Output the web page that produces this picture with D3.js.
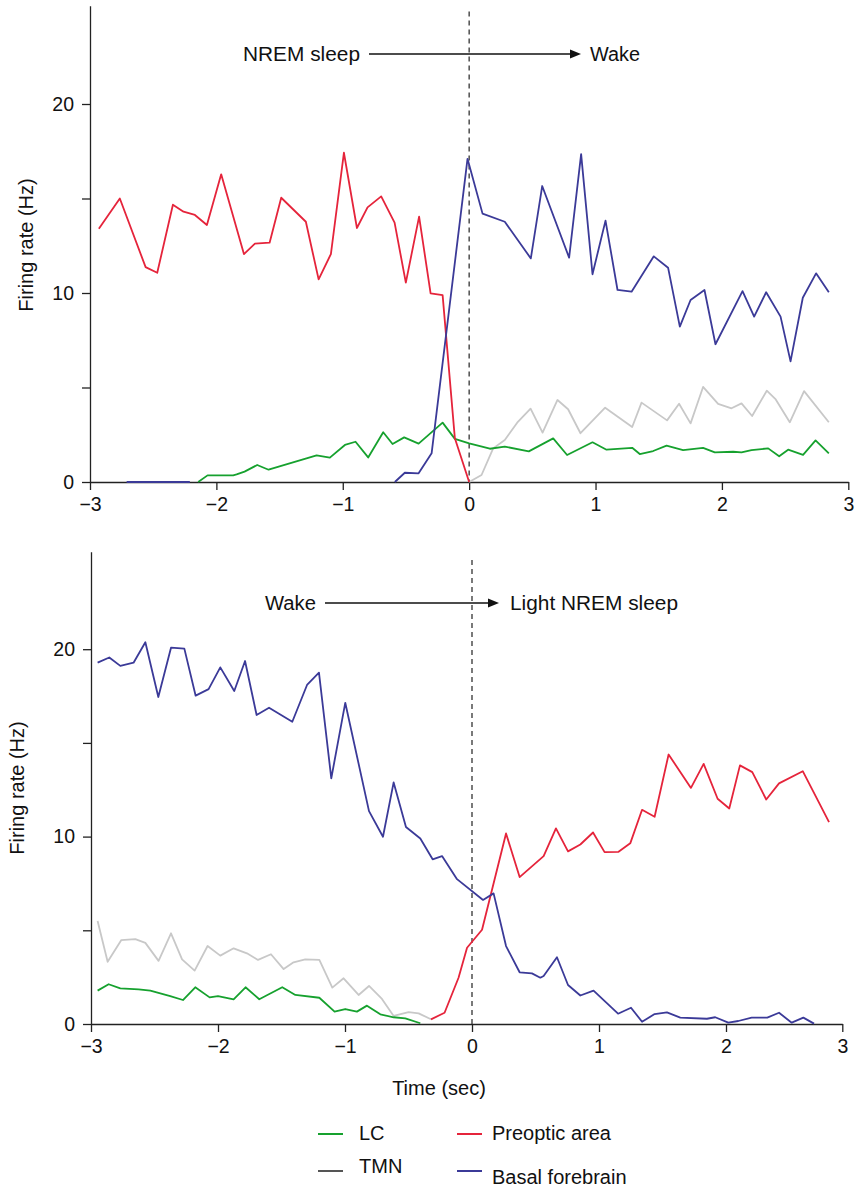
<!DOCTYPE html>
<html>
<head>
<meta charset="utf-8">
<script src="https://cdn.jsdelivr.net/npm/d3@7"></script>
<style>
  body { margin: 0; background: #fff; }
  svg { font-family: "Liberation Sans", Arial, Helvetica, sans-serif; }
</style>
</head>
<body>
<div id="chart"></div>
<script>
// axis ticks shared by both panels
const xTicks = [-3, -2, -1, 0, 1, 2, 3];
const yTicks = [0, 5, 10, 15, 20];
const yLabelled = [0, 10, 20];

// top panel: NREM sleep -> Wake   [time (sec), firing rate (Hz)]
const topLC = [[-2.144,0],[-2.07,0.35],[-1.867,0.35],[-1.84,0.4],[-1.777,0.55],[-1.677,0.9],[-1.587,0.65],
  [-1.207,1.41],[-1.102,1.29],[-0.983,1.96],[-0.899,2.13],[-0.799,1.3],[-0.68,2.63],[-0.606,2.01],[-0.514,2.36],
  [-0.4,2.03],[-0.21,3.14],[-0.113,2.28],[0,2.04],[0.164,1.76],[0.282,1.87],[0.472,1.62],[0.665,2.31],[0.775,1.43],
  [0.976,2.1],[1.087,1.71],[1.29,1.81],[1.35,1.48],[1.456,1.64],[1.562,1.92],[1.693,1.69],[1.851,1.81],[1.944,1.57],
  [2.089,1.6],[2.155,1.57],[2.234,1.69],[2.366,1.78],[2.453,1.36],[2.524,1.71],[2.642,1.44],[2.741,2.2],[2.846,1.52]];
const topTMN = [[0,0],[0.098,0.37],[0.19,1.78],[0.282,2.22],[0.38,3.14],[0.486,3.88],[0.581,2.61],[0.699,4.34],
  [0.783,3.85],[0.881,2.58],[1.076,3.93],[1.29,2.91],[1.364,4.2],[1.566,3.26],[1.661,4.14],[1.752,3.1],[1.851,5.03],
  [1.97,4.13],[2.076,3.9],[2.155,4.16],[2.239,3.49],[2.355,4.83],[2.426,4.37],[2.537,3.16],[2.65,4.81],[2.846,3.16]];
const topPOA = [[-2.93,13.4],[-2.764,15.0],[-2.56,11.37],[-2.468,11.07],[-2.344,14.67],[-2.26,14.3],[-2.17,14.13],
  [-2.075,13.6],[-1.962,16.28],[-1.782,12.06],[-1.695,12.61],[-1.579,12.66],[-1.487,15.04],[-1.292,13.77],
  [-1.191,10.72],[-1.094,12.06],[-0.991,17.42],[-0.888,13.44],[-0.804,14.53],[-0.696,15.11],[-0.59,13.72],
  [-0.501,10.55],[-0.396,14.04],[-0.305,9.98],[-0.21,9.89],[-0.113,2.31],[0,0]];
const topBF = [[-2.71,0],[-2.21,0],[-2.2,null],[-0.588,0],[-0.509,0.49],[-0.4,0.46],[-0.297,1.52],[-0.013,17.1],
  [0.106,14.2],[0.282,13.77],[0.488,11.83],[0.578,15.66],[0.791,11.87],[0.886,17.35],[0.976,10.99],[1.079,13.83],
  [1.174,10.16],[1.285,10.07],[1.461,11.94],[1.574,11.34],[1.667,8.22],[1.752,9.63],[1.862,10.16],[1.949,7.29],
  [2.163,10.1],[2.255,8.75],[2.35,10.04],[2.464,8.75],[2.543,6.38],[2.64,9.75],[2.745,11.04],[2.846,10.04]];

// bottom panel: Wake -> Light NREM sleep
const botLC = [[-2.948,1.78],[-2.861,2.12],[-2.769,1.9],[-2.625,1.85],[-2.533,1.78],[-2.376,1.49],[-2.276,1.28],
  [-2.179,1.96],[-2.066,1.42],[-2.0,1.49],[-1.877,1.32],[-1.783,1.96],[-1.675,1.32],[-1.494,1.96],[-1.391,1.55],
  [-1.202,1.4],[-1.082,0.66],[-0.998,0.8],[-0.906,0.66],[-0.827,0.98],[-0.722,0.52],[-0.617,0.36],[-0.525,0.3],[-0.407,0.04]];
const botTMN = [[-2.948,5.5],[-2.869,3.32],[-2.761,4.48],[-2.651,4.53],[-2.572,4.33],[-2.468,3.37],[-2.37,4.84],
  [-2.283,3.45],[-2.184,2.85],[-2.082,4.16],[-1.982,3.65],[-1.877,4.04],[-1.772,3.77],[-1.685,3.42],[-1.583,3.72],
  [-1.483,2.93],[-1.405,3.29],[-1.313,3.45],[-1.202,3.42],[-1.1,1.94],[-1.011,2.44],[-0.893,1.55],[-0.811,2.03],
  [-0.709,1.34],[-0.617,0.43],[-0.499,0.63],[-0.42,0.57],[-0.323,0.25]];
const botPOA = [[-0.323,0.25],[-0.216,0.6],[-0.106,2.47],[-0.039,4.07],[0.079,5.03],[0.268,10.17],[0.375,7.84],
  [0.564,8.96],[0.661,10.44],[0.756,9.21],[0.853,9.58],[0.953,10.22],[1.044,9.17],[1.154,9.19],[1.246,9.64],
  [1.339,11.43],[1.438,11.06],[1.548,14.38],[1.724,12.6],[1.824,13.88],[1.934,12.02],[2.028,11.5],[2.12,13.8],
  [2.226,13.44],[2.346,11.98],[2.456,12.84],[2.66,13.49],[2.886,10.77]];
const botBF = [[-2.948,19.28],[-2.856,19.56],[-2.769,19.11],[-2.665,19.28],[-2.572,20.37],[-2.47,17.45],[-2.37,20.08],
  [-2.265,20.03],[-2.176,17.52],[-2.074,17.87],[-1.982,19.03],[-1.872,17.77],[-1.787,19.37],[-1.696,16.49],
  [-1.598,16.88],[-1.415,16.13],[-1.299,18.09],[-1.205,18.75],[-1.108,13.11],[-0.998,17.14],[-0.811,11.36],
  [-0.701,9.99],[-0.617,12.89],[-0.52,10.51],[-0.407,9.9],[-0.31,8.79],[-0.236,8.96],[-0.118,7.73],[0.087,6.62],
  [0.17,6.97],[0.268,4.16],[0.375,2.76],[0.472,2.7],[0.538,2.47],[0.564,2.56],[0.669,3.56],[0.756,2.08],[0.853,1.52],
  [0.957,1.78],[1.15,0.55],[1.252,0.87],[1.339,0.12],[1.438,0.53],[1.535,0.62],[1.64,0.34],[1.85,0.28],[1.915,0.36],
  [2.02,0.07],[2.106,0.16],[2.221,0.34],[2.355,0.34],[2.456,0.6],[2.565,0.07],[2.665,0.34],[2.757,0.02]];

const seriesNames = ["LC", "TMN", "Preoptic area", "Basal forebrain"];
const seriesColors = ["#16a12e", "#c8c8c8", "#e5243b", "#3b3a98"];
const legendColors = ["#16a12e", "#555555", "#e5243b", "#3b3a98"];

const W = 859, H = 1188;
const svg = d3.select("#chart").append("svg").attr("width", W).attr("height", H);

const panels = [
  { series: [topTMN, topLC, topPOA, topBF], order: [1, 0, 2, 3],
    xDomain: [-3, 3], xRange: [90, 848.3], y0: 482, pxPerHz: 18.9, dashTop: 11.5,
    yTitle: [33, 245], from: "NREM sleep", to: "Wake",
    fromBox: [243, 117], toBox: [590, 50], arrow: [369, 581], ann: 54 },
  { series: [botTMN, botLC, botPOA, botBF], order: [1, 0, 2, 3],
    xDomain: [-3, 2, 3], xRange: [91, 726, 842.3], y0: 1024, pxPerHz: 18.74, dashTop: 560,
    yTitle: [24, 788], from: "Wake", to: "Light NREM sleep",
    fromBox: [265, 51], toBox: [510, 168], arrow: [325, 499], ann: 603 }
];

const fmt = d3.format("d");

panels.forEach(p => {
  const x = d3.scaleLinear().domain(p.xDomain).range(p.xRange);
  const y = d3.scaleLinear().domain([0, 25.2]).range([p.y0, p.y0 - 25.2 * p.pxPerHz]);
  const g = svg.append("g");

  const xa = g.append("g").attr("transform", `translate(0,${p.y0})`)
    .call(d3.axisBottom(x).tickValues(xTicks).tickFormat(fmt).tickSize(8).tickSizeOuter(0).tickPadding(7));
  const ya = g.append("g").attr("transform", `translate(${x(-3)},0)`)
    .call(d3.axisLeft(y).tickValues(yTicks).tickSize(8).tickSizeOuter(0).tickPadding(8)
      .tickFormat(d => yLabelled.includes(d) ? fmt(d) : ""));
  [xa, ya].forEach(a => {
    a.selectAll("path.domain, line").attr("stroke", "#222").attr("stroke-width", 1.3);
    a.selectAll("text").attr("fill", "#111").style("font-size", "19.5px");
  });

  // transition marker at t = 0
  g.append("line")
    .attr("x1", x(0)).attr("x2", x(0)).attr("y1", p.dashTop).attr("y2", p.y0)
    .attr("stroke", "#333").attr("stroke-width", 1.3).attr("stroke-dasharray", "5,4");

  const line = d3.line().defined(d => d[1] != null).x(d => x(d[0])).y(d => y(d[1]));
  // draw TMN, LC, Preoptic, Basal forebrain
  p.series.forEach((s, i) => {
    g.append("path").datum(s)
      .attr("d", line).attr("fill", "none")
      .attr("stroke", seriesColors[p.order[i]]).attr("stroke-width", 1.8)
      .attr("stroke-linejoin", "round");
  });

  // state annotation
  g.append("text").attr("x", p.fromBox[0]).attr("y", p.ann + 7)
    .attr("textLength", p.fromBox[1]).attr("lengthAdjust", "spacingAndGlyphs")
    .style("font-size", "20px").attr("fill", "#111").text(p.from);
  g.append("text").attr("x", p.toBox[0]).attr("y", p.ann + 7)
    .attr("textLength", p.toBox[1]).attr("lengthAdjust", "spacingAndGlyphs")
    .style("font-size", "20px").attr("fill", "#111").text(p.to);
  g.append("line").attr("x1", p.arrow[0]).attr("x2", p.arrow[1] - 8)
    .attr("y1", p.ann).attr("y2", p.ann).attr("stroke", "#111").attr("stroke-width", 1.3);
  g.append("path")
    .attr("d", `M${p.arrow[1]},${p.ann} L${p.arrow[1] - 11},${p.ann - 4.5} L${p.arrow[1] - 11},${p.ann + 4.5} Z`)
    .attr("fill", "#111");

  g.append("text")
    .attr("transform", `translate(${p.yTitle[0]},${p.yTitle[1]}) rotate(-90)`)
    .attr("text-anchor", "middle").style("font-size", "20px").attr("fill", "#111")
    .text("Firing rate (Hz)");
});

svg.append("text").attr("x", 439).attr("y", 1095).attr("text-anchor", "middle")
  .style("font-size", "20px").attr("fill", "#111").text("Time (sec)");

// legend: two columns
const legendPos = [[318, 1134, 1140], [318, 1171, 1173], [457, 1134, 1140], [457, 1171, 1184]];
seriesNames.forEach((name, i) => {
  const [lx, ly, ty] = legendPos[i];
  svg.append("line").attr("x1", lx).attr("x2", lx + 25).attr("y1", ly).attr("y2", ly)
    .attr("stroke", legendColors[i]).attr("stroke-width", 2);
  svg.append("text").attr("x", lx + (i < 2 ? 41 : 35)).attr("y", ty)
    .style("font-size", "20px").attr("fill", "#111").text(name);
});
</script>
</body>
</html>
